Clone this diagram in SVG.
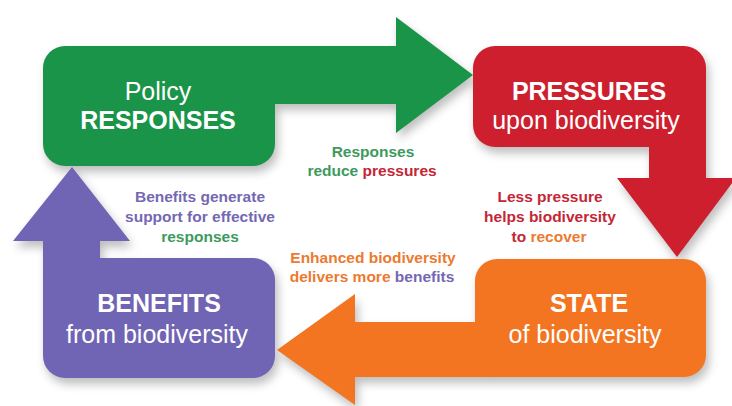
<svg xmlns="http://www.w3.org/2000/svg" width="732" height="406" viewBox="0 0 732 406">
<style>
.big{font-family:"Liberation Sans",Arial,sans-serif;font-size:25px;fill:#fff;text-anchor:middle}
.b{font-weight:bold}
.lbl{font-family:"Liberation Sans",Arial,sans-serif;font-size:15.5px;font-weight:bold;text-anchor:middle}
.tg{fill:#3d9a5c}.tr{fill:#c42636}.to{fill:#ec7a30}.tp{fill:#7568b2}
</style>
<defs>
<filter id="blur" x="-20%" y="-20%" width="140%" height="140%"><feGaussianBlur stdDeviation="5"/></filter>
<path id="aG" d="M240,46 H396 V17 L473,75 L396,133 V104 H240 Z"/>
<path id="aR" d="M649,120 H706 V178 H736 L677,257 L617,178 H649 Z"/>
<path id="aO" d="M500,322 V377 H355 V405 L277,350 L355,294 V322 Z"/>
<path id="aP" d="M43,280 V241 H13 L72,167 L130,241 H100 V280 Z"/>
<rect id="rG" x="43" y="46" width="232" height="120" rx="22"/>
<rect id="rR" x="473" y="46" width="233" height="101" rx="22"/>
<rect id="rO" x="475" y="259" width="231" height="118" rx="22"/>
<rect id="rP" x="43" y="258" width="232" height="120" rx="22"/>
</defs>
<rect width="732" height="406" fill="#fff"/>
<g id="shadows" transform="translate(3,6)" fill="#555" opacity="0.38" filter="url(#blur)">
<use href="#aG"/><use href="#rG"/>
<use href="#aR"/><use href="#rR"/>
<use href="#aO"/><use href="#rO"/>
<use href="#aP"/><use href="#rP"/>
</g>
<g id="connectors">
<use href="#aG" fill="#1a9448"/>
<use href="#aR" fill="#cd1f2d"/>
<use href="#aO" fill="#f37421"/>
<use href="#aP" fill="#7064b4"/>
</g>
<g id="responses">
<use href="#rG" fill="#1a9448"/>
<text class="big" x="158" y="100">Policy</text>
<text class="big b" x="158" y="129">RESPONSES</text>
</g>
<g id="pressures">
<use href="#rR" fill="#cd1f2d"/>
<text class="big b" x="589" y="100">PRESSURES</text>
<text class="big" x="586" y="129">upon biodiversity</text>
</g>
<g id="state">
<use href="#rO" fill="#f37421"/>
<text class="big b" x="589" y="312">STATE</text>
<text class="big" x="585" y="343">of biodiversity</text>
</g>
<g id="benefits">
<use href="#rP" fill="#7064b4"/>
<text class="big b" x="159" y="312">BENEFITS</text>
<text class="big" x="157" y="343">from biodiversity</text>
</g>
<g id="labels">
<text class="lbl tg" x="373" y="157">Responses</text>
<text class="lbl" x="372" y="176"><tspan class="tg">reduce </tspan><tspan class="tr">pressures</tspan></text>
<text class="lbl tp" x="200" y="202">Benefits generate</text>
<text class="lbl tp" x="200" y="222">support for effective</text>
<text class="lbl tg" x="200" y="242">responses</text>
<text class="lbl tr" x="550" y="202">Less pressure</text>
<text class="lbl tr" x="550" y="222">helps biodiversity</text>
<text class="lbl" x="549" y="242"><tspan class="tr">to </tspan><tspan class="to">recover</tspan></text>
<text class="lbl to" x="373" y="263">Enhanced biodiversity</text>
<text class="lbl" x="372" y="282"><tspan class="to">delivers more </tspan><tspan class="tp">benefits</tspan></text>
</g>
</svg>
